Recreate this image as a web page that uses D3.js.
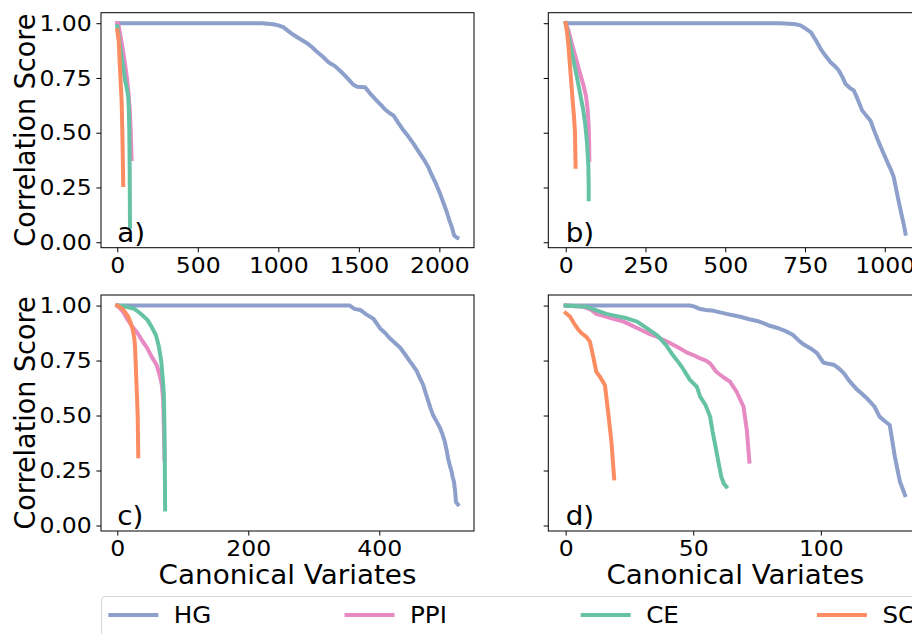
<!DOCTYPE html>
<html><head><meta charset="utf-8">
<script src="https://cdn.jsdelivr.net/npm/d3@7"></script>
<style>
body{margin:0;background:#fff}
svg{display:block}
text{font-family:"DejaVu Sans",sans-serif;fill:#000}
</style></head>
<body><svg id="chart" width="912" height="634"></svg>
<script>
// ---------- data ----------
const seriesNames = ["HG", "PPI", "CE", "SC"];
const seriesColors = ["#8da0cb", "#e78ac3", "#66c2a5", "#fc8d62"];
const panelLabels = ["a)", "b)", "c)", "d)"];
const yTickValues = [0, 0.25, 0.5, 0.75, 1.0];
const xTicksA = [0, 500, 1000, 1500, 2000];
const xTicksB = [0, 250, 500, 750, 1000];
const xTicksC = [0, 200, 400];
const xTicksD = [0, 50, 100];
const xLabel = "Canonical Variates";
const yLabel = "Correlation Score";

// panel a)
const hgA = [[0,1],[900,1.0],[969,0.995],[1000,0.99],[1031,0.982],[1060,0.965],[1093,0.947],[1130,0.93],[1176,0.91],[1210,0.89],[1238,0.871],[1275,0.848],[1311,0.822],[1352,0.804],[1385,0.782],[1414,0.761],[1440,0.74],[1466,0.719],[1490,0.71],[1539,0.708],[1575,0.675],[1611,0.647],[1640,0.625],[1663,0.606],[1690,0.59],[1715,0.579],[1745,0.545],[1777,0.511],[1810,0.48],[1839,0.45],[1870,0.415],[1901,0.381],[1930,0.345],[1953,0.306],[1980,0.265],[2004,0.222],[2025,0.18],[2046,0.138],[2062,0.1],[2077,0.07],[2091,0.032],[2105,0.022],[2112,0.02]];
const ppiA = [[0,1.0],[6,1.0],[15,0.96],[30,0.9],[45,0.83],[60,0.75],[70,0.68],[78,0.6],[84,0.5],[87,0.42],[89,0.38]];
const ceA = [[0,0.986],[10,0.93],[27,0.846],[48,0.74],[60,0.7],[68,0.664],[72,0.6],[75,0.497],[77,0.35],[78,0.2],[79,0.071]];
const scA = [[0,0.968],[9,0.92],[15,0.82],[22,0.72],[27,0.649],[31,0.52],[34,0.4],[37,0.261]];

// panel b)
const hgB = [[0,1],[673,1.0],[700,0.998],[720,0.995],[736,0.99],[752,0.975],[768,0.959],[785,0.92],[799,0.883],[815,0.85],[830,0.822],[843,0.805],[856,0.784],[867,0.755],[877,0.723],[890,0.705],[903,0.693],[916,0.65],[929,0.602],[942,0.578],[955,0.556],[968,0.505],[981,0.457],[995,0.41],[1008,0.366],[1018,0.335],[1028,0.298],[1036,0.24],[1044,0.184],[1052,0.13],[1060,0.078],[1065,0.039]];
const ppiB = [[0,1.0],[8,0.97],[19,0.907],[32,0.84],[45,0.77],[55,0.72],[64,0.664],[69,0.6],[72,0.527],[73.5,0.45],[74,0.375]];
const ceB = [[0,1.0],[6,0.96],[13.5,0.907],[24,0.83],[35,0.755],[45,0.68],[55,0.603],[61,0.54],[66,0.466],[69,0.4],[71,0.345],[72,0.26],[72,0.196]];
const scB = [[0,1.0],[4,0.96],[8,0.907],[12,0.83],[16,0.755],[21,0.66],[26,0.573],[29,0.5],[30,0.42],[31,0.345]];

// panel c)
const hgC = [[0,1],[355,1.0],[362,0.985],[371,0.98],[380,0.96],[391,0.94],[401,0.897],[409,0.875],[416,0.851],[424,0.83],[432,0.808],[440,0.775],[447,0.745],[452,0.725],[457,0.703],[462,0.67],[467,0.639],[471,0.6],[475,0.563],[478,0.535],[482,0.502],[488,0.47],[493,0.442],[497,0.41],[500,0.381],[503,0.34],[505,0.305],[508,0.27],[510.5,0.244],[512,0.22],[514,0.199],[516,0.15],[517,0.107],[520,0.096]];
const ppiC = [[0,1.0],[8,0.975],[16,0.935],[24,0.9],[31,0.874],[38,0.84],[45,0.81],[52,0.77],[60,0.73],[65,0.68],[68,0.64],[70,0.57],[71,0.45],[72,0.3]];
const ceC = [[0,1.0],[10,0.997],[20,0.99],[26,0.985],[35,0.965],[46,0.935],[53,0.9],[59,0.865],[63,0.82],[67,0.75],[69,0.68],[71,0.598],[72,0.45],[72.5,0.3],[73,0.073]];
const scC = [[0,1.0],[8,0.985],[16,0.953],[20,0.925],[23.5,0.892],[26,0.85],[27,0.816],[28,0.74],[29,0.664],[30,0.59],[31,0.512],[31.5,0.42],[32,0.315]];

// panel d)
const hgD = [[0,1],[48.7,1.0],[50.5,0.995],[52.7,0.984],[55,0.98],[58,0.976],[63,0.962],[68,0.95],[72,0.938],[75,0.93],[77.5,0.92],[80,0.908],[83,0.898],[86,0.885],[89,0.867],[91,0.845],[93,0.825],[96,0.805],[98.5,0.784],[101,0.741],[103,0.735],[105,0.731],[107,0.715],[109,0.693],[111,0.66],[114,0.62],[116,0.6],[118,0.579],[121,0.541],[123,0.495],[125,0.475],[127,0.457],[129,0.313],[131,0.199],[133,0.138]];
const ppiD = [[0,1.0],[7,0.995],[10,0.98],[12,0.962],[15,0.952],[18.7,0.94],[22,0.93],[24,0.92],[29,0.892],[33,0.87],[35.7,0.859],[38,0.845],[41,0.829],[44,0.81],[47.6,0.786],[50,0.775],[52.7,0.76],[55,0.75],[56.6,0.737],[59,0.699],[61.8,0.674],[64.4,0.654],[67,0.608],[69.7,0.54],[71,0.434],[72,0.29]];
const ceD = [[0,1.0],[8,0.995],[12,0.978],[16,0.962],[20,0.952],[24,0.942],[28,0.927],[31.8,0.897],[35.7,0.866],[37.5,0.845],[39.6,0.816],[42,0.775],[44,0.745],[45.5,0.722],[48.7,0.662],[51.4,0.631],[52.7,0.586],[54.8,0.548],[56.6,0.495],[57.6,0.426],[59,0.343],[60,0.28],[61,0.221],[62,0.19],[63,0.176]];
const scD = [[0,0.966],[1.7,0.95],[3.6,0.913],[5,0.89],[6.3,0.874],[8,0.859],[9.5,0.836],[10.8,0.768],[12,0.699],[13.4,0.677],[15.4,0.638],[16.7,0.51],[18,0.373],[19,0.214]];

// ---------- layout ----------
const SX = 1.07;            // horizontal text stretch of the reference
const TICK_FS = 22, LABEL_FS = 26, PANEL_FS = 26, LEGEND_FS = 23;
const yDomain = [-0.025, 1.048];
const panels = [
  {label: panelLabels[0], series: [hgA, ppiA, ceA, scA], ticks: xTicksA, xd: [-101, 2215], box: [101, 12.7, 474, 247.7], yLab: true,  xLab: false},
  {label: panelLabels[1], series: [hgB, ppiB, ceB, scB], ticks: xTicksB, xd: [-54.6, 1118], box: [548.3, 12.7, 922.4, 247.7], yLab: false, xLab: false},
  {label: panelLabels[2], series: [hgC, ppiC, ceC, scC], ticks: xTicksC, xd: [-24.9, 544.6], box: [101, 295, 474, 531], yLab: true,  xLab: true},
  {label: panelLabels[3], series: [hgD, ppiD, ceD, scD], ticks: xTicksD, xd: [-6.8, 139.8], box: [548.3, 295, 922.4, 531], yLab: false, xLab: true}
];

const svg = d3.select("#chart");
svg.append("rect").attr("width", 912).attr("height", 634).attr("fill", "#fff");

function stretch(sel) {
  sel.each(function () {
    const x = +(this.getAttribute("x") || 0);
    this.setAttribute("transform", `translate(${x},0) scale(${SX},1) translate(${-x},0)`);
  });
}

panels.forEach(p => {
  const [x0, y0, x1, y1] = p.box;
  const x = d3.scaleLinear().domain(p.xd).range([x0, x1]);
  const y = d3.scaleLinear().domain(yDomain).range([y1, y0]);
  const g = svg.append("g");

  const line = d3.line().x(d => x(d[0])).y(d => y(d[1]));
  p.series.forEach((s, i) => {
    g.append("path").datum(s).attr("d", line)
      .attr("fill", "none").attr("stroke", seriesColors[i])
      .attr("stroke-width", 4).attr("stroke-linejoin", "round").attr("stroke-linecap", "square");
  });

  // frame
  g.append("rect").attr("x", x0).attr("y", y0).attr("width", x1 - x0).attr("height", y1 - y0)
    .attr("fill", "none").attr("stroke", "#000").attr("stroke-width", 1);

  // axes
  const ax = g.append("g").attr("transform", `translate(0,${y1})`)
    .call(d3.axisBottom(x).tickValues(p.ticks).tickSize(4.6).tickPadding(4.6).tickFormat(d3.format("d")));
  const ay = g.append("g").attr("transform", `translate(${x0},0)`)
    .call(d3.axisLeft(y).tickValues(yTickValues).tickSize(4.6).tickPadding(4.6)
      .tickFormat(p.yLab ? d3.format(".2f") : () => ""));
  [ax, ay].forEach(a => {
    a.select(".domain").remove();
    a.selectAll(".tick line").attr("stroke", "#000").attr("stroke-width", 1);
    a.selectAll(".tick text").attr("font-size", TICK_FS).attr("font-family", "DejaVu Sans").attr("fill", "#000");
    stretch(a.selectAll(".tick text"));
  });

  // panel label
  const pl = g.append("text").attr("x", x(0)).attr("y", y(0)).attr("font-size", PANEL_FS).text(p.label);
  stretch(pl);

  if (p.yLab) {
    g.append("text").attr("text-anchor", "middle").attr("font-size", 27)
      .attr("transform", `translate(35,${(y0 + y1) / 2}) scale(${SX},1) rotate(-90)`)
      .text(yLabel);
  }
  if (p.xLab) {
    const t = g.append("text").attr("text-anchor", "middle").attr("font-size", LABEL_FS)
      .attr("x", (x0 + x1) / 2).attr("y", 584).text(xLabel);
    stretch(t);
  }
});

// legend
const lg = svg.append("g");
lg.append("rect").attr("x", 101.5).attr("y", 596.5).attr("width", 830).attr("height", 70).attr("rx", 4)
  .attr("fill", "#fff").attr("fill-opacity", 0.8).attr("stroke", "#d6d6d6").attr("stroke-width", 1);
seriesNames.forEach((name, i) => {
  const lx = 108.3 + i * 236.2;
  lg.append("line").attr("x1", lx).attr("x2", lx + 50).attr("y1", 615).attr("y2", 615)
    .attr("stroke", seriesColors[i]).attr("stroke-width", 4);
  const t = lg.append("text").attr("x", lx + 65.5).attr("y", 623.4).attr("font-size", LEGEND_FS).text(name);
  stretch(t);
});
</script></body></html>
